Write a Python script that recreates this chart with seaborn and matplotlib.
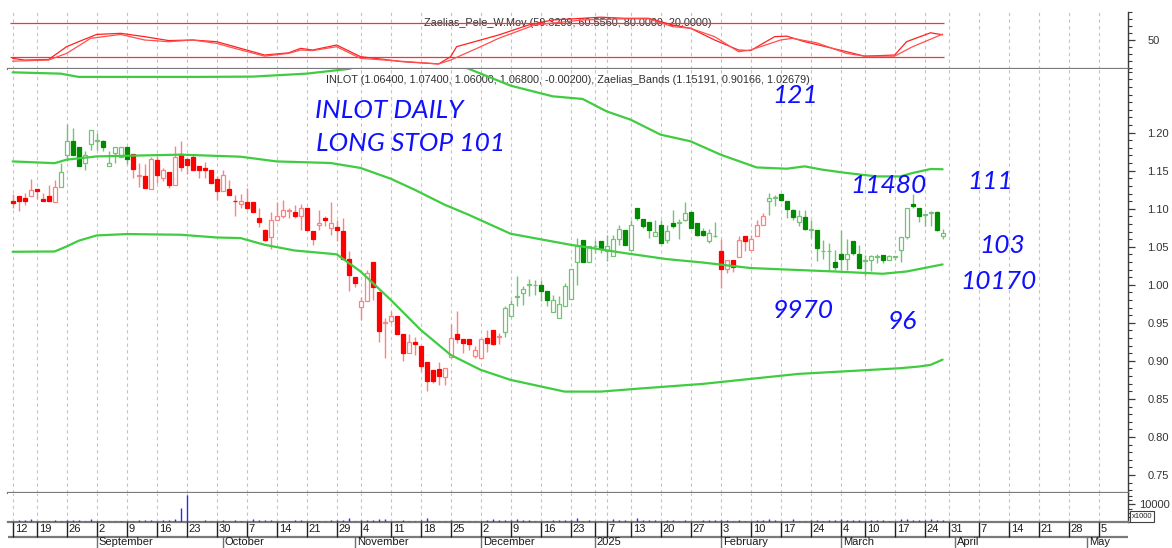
import numpy as np
import pandas as pd
import matplotlib
matplotlib.use("Agg")
import matplotlib.pyplot as plt
from matplotlib.ticker import MultipleLocator, FixedLocator
import seaborn as sns

# ---------------- data (x = trading-day index from 12 Aug 2024) ----------------
open_ = [1.1101, 1.1167, 1.1145, 1.1171, 1.1259, 1.1127, 1.1162, 1.1092, 1.1290, 1.1711,
         1.1886, 1.1807, 1.1601, 1.1851, 1.1895, 1.1886, 1.1557, 1.1733, 1.1676, 1.1807,
         1.1719, 1.1434, 1.1434, 1.1255, 1.1645, 1.1404, 1.1478, 1.1312, 1.1719, 1.1654,
         1.1676, 1.1566, 1.1535, 1.1509, 1.1390, 1.1237, 1.1263, 1.1105, 1.1061, 1.1088,
         1.1084, 1.0882, 1.0724, 1.0627, 1.0846, 1.0908, 1.0974, 1.0961, 1.0908, 1.1009,
         1.0706, 1.0785, 1.0882, 1.0746, 1.0759, 1.0706, 1.0338, 1.0101, 0.9706, 0.9781,
         1.0294, 0.9904, 0.9504, 0.9526, 0.9596, 0.9355, 0.9101, 0.9246, 0.9202, 0.8991,
         0.8882, 0.8895, 0.8794, 0.9057, 0.9355, 0.9285, 0.9285, 0.9070, 0.9035, 0.9298,
         0.9408, 0.9320, 0.9386, 0.9596, 0.9846, 0.9890, 1.0000, 0.9991, 0.9991, 0.9912,
         0.9649, 0.9570, 0.9715, 0.9816, 1.0298, 1.0592, 1.0298, 1.0504, 1.0570, 1.0439,
         1.0373, 1.0601, 1.0724, 1.0452, 1.1009, 1.0864, 1.0820, 1.0645, 1.0789, 1.0583,
         1.0811, 1.0811, 1.0846, 1.0956, 1.0811, 1.0706, 1.0571, 1.0636, 1.0439, 1.0206,
         1.0329, 1.0364, 1.0645, 1.0452, 1.0636, 1.0790, 1.1097, 1.1141, 1.1198, 1.1097,
         1.0978, 1.0821, 1.0886, 1.0724, 1.0715, 1.0439, 1.0439, 1.0294, 1.0404, 1.0338,
         1.0571, 1.0408, 1.0307, 1.0321, 1.0364, 1.0395, 1.0329, 1.0364, 1.0452, 1.0628,
         1.1066, 1.1009, 1.0921, 1.0943, 1.0952, 1.0640]
high = [1.1193, 1.1170, 1.1202, 1.1390, 1.1262, 1.1202, 1.1316, 1.1377, 1.1601, 1.2114,
        1.2062, 1.1807, 1.1755, 1.2035, 1.1991, 1.1908, 1.1763, 1.1807, 1.1807, 1.1807,
        1.1719, 1.1601, 1.1588, 1.1676, 1.1689, 1.1535, 1.1478, 1.1820, 1.1895, 1.1654,
        1.1711, 1.1566, 1.1610, 1.1509, 1.1434, 1.1513, 1.1382, 1.1184, 1.1200, 1.1270,
        1.1084, 1.1009, 1.0730, 1.0952, 1.1088, 1.1118, 1.1009, 1.1053, 1.1061, 1.1009,
        1.0706, 1.0978, 1.0908, 1.1088, 1.0855, 1.0877, 1.0439, 1.0101, 0.9838, 1.0197,
        1.0294, 0.9904, 0.9561, 0.9662, 0.9596, 0.9355, 0.9355, 0.9320, 0.9202, 0.8991,
        0.8882, 0.8982, 0.8904, 0.9487, 0.9662, 0.9285, 0.9285, 0.9189, 0.9285, 0.9408,
        0.9408, 0.9364, 0.9715, 0.9803, 1.0118, 0.9978, 1.0075, 1.0066, 1.0066, 0.9912,
        0.9868, 0.9855, 1.0022, 1.0211, 1.0614, 1.0592, 1.0504, 1.0592, 1.0570, 1.0658,
        1.0658, 1.0789, 1.0724, 1.0855, 1.1009, 1.0864, 1.0820, 1.0855, 1.0855, 1.0789,
        1.0987, 1.0864, 1.1083, 1.0956, 1.0811, 1.0746, 1.0733, 1.0821, 1.0601, 1.0329,
        1.0329, 1.0636, 1.0645, 1.0658, 1.0856, 1.0943, 1.1207, 1.1185, 1.1198, 1.1097,
        1.0996, 1.0978, 1.0987, 1.0847, 1.0715, 1.0584, 1.0549, 1.0452, 1.0715, 1.0601,
        1.0571, 1.0527, 1.0395, 1.0395, 1.0408, 1.0395, 1.0395, 1.0380, 1.0628, 1.1009,
        1.1198, 1.1009, 1.0921, 1.0965, 1.0965, 1.0740]
low = [1.1009, 1.0965, 1.1044, 1.1171, 1.1132, 1.1101, 1.1101, 1.1092, 1.1290, 1.1632,
       1.1711, 1.1557, 1.1513, 1.1776, 1.1768, 1.1763, 1.1557, 1.1601, 1.1676, 1.1588,
       1.1404, 1.1281, 1.1268, 1.1255, 1.1338, 1.1360, 1.1268, 1.1312, 1.1491, 1.1456,
       1.1513, 1.1404, 1.1404, 1.1342, 1.1119, 1.1237, 1.1184, 1.0908, 1.1009, 1.1000,
       1.0952, 1.0754, 1.0580, 1.0469, 1.0846, 1.0877, 1.0877, 1.0877, 1.0715, 1.0715,
       1.0526, 1.0724, 1.0776, 1.0658, 1.0570, 1.0338, 0.9912, 0.9965, 0.9531, 0.9781,
       0.9803, 0.9254, 0.9035, 0.9504, 0.9355, 0.9004, 0.9101, 0.9079, 0.8860, 0.8610,
       0.8715, 0.8684, 0.8684, 0.9035, 0.9241, 0.9101, 0.9145, 0.9035, 0.9035, 0.9123,
       0.9211, 0.9224, 0.9320, 0.9596, 0.9724, 0.9737, 0.9855, 0.9868, 0.9789, 0.9715,
       0.9649, 0.9561, 0.9715, 0.9816, 1.0000, 1.0298, 1.0298, 1.0417, 1.0417, 1.0307,
       1.0373, 1.0526, 1.0526, 1.0452, 1.0855, 1.0746, 1.0614, 1.0645, 1.0548, 1.0548,
       1.0746, 1.0601, 1.0833, 1.0746, 1.0636, 1.0645, 1.0549, 1.0628, 0.9957, 1.0154,
       1.0163, 1.0364, 1.0439, 1.0452, 1.0636, 1.0790, 1.0921, 1.1040, 1.1097, 1.0878,
       1.0856, 1.0768, 1.0724, 1.0614, 1.0307, 1.0338, 1.0198, 1.0189, 1.0189, 1.0189,
       1.0395, 1.0220, 1.0110, 1.0176, 1.0285, 1.0285, 1.0320, 1.0330, 1.0300, 1.0600,
       1.1009, 1.0821, 1.0777, 1.0768, 1.0702, 1.0600]
close = [1.1075, 1.1101, 1.1096, 1.1241, 1.1237, 1.1101, 1.1101, 1.1290, 1.1483, 1.1895,
         1.1711, 1.1557, 1.1702, 1.2035, 1.1895, 1.1816, 1.1601, 1.1807, 1.1807, 1.1654,
         1.1526, 1.1434, 1.1268, 1.1654, 1.1448, 1.1505, 1.1312, 1.1676, 1.1548, 1.1570,
         1.1513, 1.1513, 1.1513, 1.1342, 1.1237, 1.1448, 1.1184, 1.1097, 1.1105, 1.1013,
         1.0952, 1.0820, 1.0592, 1.0846, 1.0908, 1.0987, 1.0974, 1.0908, 1.1009, 1.0715,
         1.0601, 1.0811, 1.0846, 1.0811, 1.0715, 1.0338, 1.0132, 1.0022, 0.9781, 1.0154,
         0.9969, 0.9399, 0.9504, 0.9596, 0.9355, 0.9110, 0.9254, 0.9219, 0.8934, 0.8741,
         0.8741, 0.8807, 0.8904, 0.9298, 0.9289, 0.9241, 0.9224, 0.9145, 0.9285, 0.9232,
         0.9224, 0.9320, 0.9693, 0.9750, 0.9846, 0.9943, 1.0009, 0.9991, 0.9912, 0.9803,
         0.9803, 0.9746, 0.9987, 1.0211, 1.0513, 1.0298, 1.0504, 1.0504, 1.0482, 1.0504,
         1.0601, 1.0732, 1.0526, 1.0789, 1.0877, 1.0768, 1.0715, 1.0689, 1.0548, 1.0702,
         1.0776, 1.0811, 1.0943, 1.0746, 1.0649, 1.0658, 1.0680, 1.0636, 1.0206, 1.0329,
         1.0233, 1.0584, 1.0571, 1.0601, 1.0790, 1.0900, 1.1141, 1.1141, 1.1110, 1.0996,
         1.0891, 1.0908, 1.0733, 1.0724, 1.0483, 1.0439, 1.0439, 1.0233, 1.0338, 1.0408,
         1.0417, 1.0220, 1.0329, 1.0373, 1.0364, 1.0329, 1.0373, 1.0364, 1.0628, 1.1009,
         1.1031, 1.0908, 1.0921, 1.0943, 1.0715, 1.0680]
volume_k = [200, 900, 900, 1700, 200, 200, 200, 900, 200, 1100,
            900, 900, 200, 1600, 200, 200, 200, 200, 200, 200,
            200, 900, 900, 900, 200, 900, 900, 1400, 7700, 15400,
            200, 200, 900, 200, 200, 900, 200, 900, 200, 200,
            1700, 900, 900, 900, 200, 200, 200, 900, 900, 200,
            200, 200, 200, 900, 900, 1000, 2100, 200, 900, 900,
            900, 1800, 1800, 200, 200, 900, 200, 200, 900, 2100,
            200, 200, 200, 900, 200, 200, 200, 200, 200, 900,
            1400, 900, 900, 900, 1700, 900, 900, 200, 200, 200,
            900, 1200, 900, 900, 2100, 200, 900, 200, 200, 200,
            1700, 900, 900, 200, 2100, 900, 900, 900, 200, 900,
            900, 200, 900, 200, 200, 900, 900, 900, 1000, 900,
            200, 900, 200, 200, 900, 900, 1700, 900, 200, 200,
            1400, 200, 200, 900, 900, 200, 900, 900, 1400, 900,
            900, 900, 200, 900, 900, 900, 200, 200, 1400, 1700,
            900, 900, 900, 1400, 900, 900]
red_ranges = [(0, 7), (20, 81), (118, 125)]

upper_idx = [0, 8, 11, 31, 40, 49, 56, 60, 64, 68, 72, 76, 83, 90, 95, 99, 103, 108,
             113, 118, 124, 129, 132, 135, 139, 144, 148, 150, 153, 155]
upper_val = [1.2793, 1.2776, 1.2733, 1.2733, 1.2737, 1.2776, 1.2838, 1.292, 1.298, 1.300,
             1.294, 1.284, 1.2618, 1.2478, 1.2443, 1.2280, 1.2171, 1.1974, 1.1886, 1.1711,
             1.1543, 1.1526, 1.1557, 1.1513, 1.1470, 1.1425, 1.1425, 1.1470, 1.1522, 1.15191]
middle_idx = [0, 7, 9, 14, 28, 38, 44, 53, 58, 63, 67, 72, 76, 83, 93, 102, 109, 115,
              123, 137, 145, 149, 155]
middle_val = [1.1622, 1.1599, 1.1645, 1.1688, 1.1711, 1.1684, 1.1622, 1.1601, 1.1536, 1.1395,
              1.1250, 1.1053, 1.0921, 1.0671, 1.0526, 1.0417, 1.0338, 1.0293, 1.0220, 1.0175,
              1.0145, 1.0175, 1.02679]
lower_idx = [0, 7, 9, 11, 14, 19, 28, 34, 38, 42, 47, 54, 58, 63, 68, 73, 78, 83, 92,
             98, 106, 115, 123, 131, 140, 148, 151, 153, 155]
lower_val = [1.0434, 1.0438, 1.0504, 1.0579, 1.0649, 1.0667, 1.0658, 1.0622, 1.0614, 1.0526,
             1.0451, 1.0401, 1.0175, 0.9803, 0.9408, 0.9079, 0.8882, 0.8750, 0.8596, 0.8596,
             0.8645, 0.8697, 0.8763, 0.8829, 0.8868, 0.8904, 0.8925, 0.8947, 0.90166]

fast_idx = [0, 2, 6, 9, 11, 14, 18, 22, 26, 30, 34, 37, 42, 46, 48, 50, 54, 58, 62, 65,
            71, 73, 74, 78, 81, 86, 90, 95, 98, 102, 106, 110, 113, 117, 121, 123, 127,
            129, 132, 139, 142, 147, 149, 153, 155]
fast_val = [17, 14, 15, 38, 47, 60, 62, 56, 49, 50, 47, 38, 23, 27, 35, 32, 41, 20, 15, 11,
            7, 20, 38, 50, 59, 77, 86, 89, 91, 89, 89, 77, 71, 50, 32, 31, 56,
            57, 47, 29, 21, 23, 47, 63, 59.3209]
slow_idx = [0, 6, 9, 13, 18, 22, 26, 30, 34, 37, 42, 46, 48, 50, 54, 58, 62, 71, 73, 78,
            81, 87, 95, 102, 106, 110, 113, 117, 121, 123, 128, 130, 134, 139, 142, 147,
            150, 154, 155]
slow_val = [12, 14, 26, 53, 60, 50, 47, 50, 44, 35, 21, 26, 32, 31, 38, 17, 14, 7, 14, 38,
            53, 77, 86, 88, 88, 74, 71, 56, 29, 32, 50, 53, 45, 26, 21, 21,
            38, 56, 60.5560]
osc_levels = [80, 20]

day_tick_idx = [0, 4, 9, 14, 19, 24, 29, 34, 39, 44, 49, 54, 58, 63, 68, 73, 78, 83, 88, 93,
                97, 99, 103, 108, 113, 118, 123, 128, 133, 138, 142, 147, 152, 156, 161, 166,
                171, 176, 181]
day_tick_labels = ['12', '19', '26', '2', '9', '16', '23', '30', '7', '14', '21', '29', '4',
                   '11', '18', '25', '2', '9', '16', '23', '', '7', '13', '20', '27', '3',
                   '10', '17', '24', '4', '10', '17', '24', '31', '7', '14', '21', '28', '5']
month_idx = [14, 35, 57, 78, 97, 118, 138, 157, 179]
month_labels = ['September', 'October', 'November', 'December', '2025', 'February',
                'March', 'April', 'May']
price_ticks = [0.75, 0.80, 0.85, 0.90, 0.95, 1.00, 1.05, 1.10, 1.15, 1.20]

osc_title = "Zaelias_Pele_W.Mov (59.3209, 60.5560, 80.0000, 20.0000)"
main_title = ("INLOT (1.06400, 1.07400, 1.06000, 1.06800, -0.00200), "
              "Zaelias_Bands (1.15191, 0.90166, 1.02679)")
notes = [("INLOT DAILY", 50.4, 1.2145), ("LONG STOP 101", 50.6, 1.1711),
         ("121", 126.7, 1.2342), ("11480", 139.6, 1.1158), ("111", 159.2, 1.1211),
         ("103", 161.1, 1.0370), ("10170", 157.9, 0.9897), ("9970", 126.7, 0.9513),
         ("96", 145.9, 0.9368)]

# ---------------- table ----------------
df = pd.DataFrame({"open": open_, "high": high, "low": low, "close": close,
                   "volume": volume_k})
df["i"] = np.arange(len(df))
df["red"] = False
for a, b in red_ranges:
    df.loc[a:b, "red"] = True
df["bull"] = df["close"] >= df["open"]

# ---------------- figure ----------------
sns.set_theme(style="white")
plt.rcParams["font.family"] = ["Liberation Sans", "DejaVu Sans"]

W, H = 1172, 548
fig = plt.figure(figsize=(W / 100, H / 100), dpi=100)
fig.patch.set_facecolor("white")
L, R = 8, 1128
Y_OT, Y_OB, Y_MB, Y_VB = 12, 69.3, 493, 521.7


def box(top, bot):
    return [L / W, 1 - bot / H, (R - L) / W, (bot - top) / H]


ax_osc = fig.add_axes(box(Y_OT, Y_OB))
ax_main = fig.add_axes(box(Y_OB, Y_MB))
ax_vol = fig.add_axes(box(Y_MB, Y_VB))
ax_date = fig.add_axes(box(Y_VB, H))

x_lo, x_hi = -0.77, 185.9
SEP = "#7a7a7a"
AXC = "#3a3a3a"
GRID = "#c4c4c4"

for ax in (ax_osc, ax_main, ax_vol):
    ax.set_facecolor("white")
    ax.set_xlim(x_lo, x_hi)
    ax.set_xticks([])
    for s in ("top", "left"):
        ax.spines[s].set_visible(False)
    ax.spines["bottom"].set_color(SEP)
    ax.spines["bottom"].set_linewidth(1.6)
    ax.spines["right"].set_color(AXC)
    ax.spines["right"].set_linewidth(1.0)
    ax.yaxis.tick_right()
    ax.tick_params(axis="y", which="major", direction="out", length=5, width=0.9,
                   color=AXC, labelsize=8, labelcolor="#333333", pad=9)
    ax.tick_params(axis="y", which="minor", direction="out", length=3, width=0.8,
                   color=AXC)
    ax.grid(False)
    for t in day_tick_idx:
        ax.axvline(t, color=GRID, lw=0.8, ls=(0, (3, 3)), zorder=0)

# ---- oscillator panel ----
ax_osc.set_ylim(-2.6, 100.3)
ax_osc.yaxis.set_major_locator(FixedLocator([50]))
ax_osc.yaxis.set_minor_locator(MultipleLocator(12.5))
ax_osc.set_yticklabels(["50"])
for lv in osc_levels:
    ax_osc.hlines(lv, -0.5, len(df) - 0.7, color="#ff3030", lw=0.9, zorder=3)
sns.lineplot(x=fast_idx, y=fast_val, ax=ax_osc, color="#ff2020", lw=0.9, zorder=4)
sns.lineplot(x=slow_idx, y=slow_val, ax=ax_osc, color="#ff5050", lw=0.9, zorder=4)
ax_osc.set_xlabel("")
ax_osc.set_ylabel("")
ax_osc.text(0.5, 0.81, osc_title, transform=ax_osc.transAxes, ha="center", va="center",
            fontsize=7.8, color="#303030", zorder=1)

# ---- main panel ----
ax_main.set_ylim(0.7263, 1.2833)
ax_main.yaxis.set_major_locator(FixedLocator(price_ticks))
ax_main.yaxis.set_minor_locator(MultipleLocator(0.01))
ax_main.set_yticklabels([f"{v:.2f}" for v in price_ticks])

RED_F, RED_L = "#ff0000", "#ff8282"
GRN_F, GRN_L = "#008a00", "#74c274"
wick_col = np.where(df["red"], RED_L, GRN_L)
ax_main.vlines(df["i"], df["low"], df["high"], colors=wick_col, lw=1.0, zorder=2)
body_lo = np.minimum(df["open"], df["close"])
body_h = np.maximum((df["close"] - df["open"]).abs(), 0.0009)
face = np.where(df["bull"], "white", np.where(df["red"], RED_F, GRN_F))
edge = np.where(df["bull"], np.where(df["red"], RED_L, GRN_L),
                np.where(df["red"], RED_F, GRN_F))
ax_main.bar(df["i"], body_h, bottom=body_lo, width=0.66, color=face, edgecolor=edge,
            linewidth=0.9, zorder=3)

BAND = "#40cc40"
for bx, by in ((upper_idx, upper_val), (middle_idx, middle_val), (lower_idx, lower_val)):
    sns.lineplot(x=bx, y=by, ax=ax_main, color=BAND, lw=1.6, zorder=4)
ax_main.set_xlabel("")
ax_main.set_ylabel("")
ax_main.text(0.5, 0.9747, main_title, transform=ax_main.transAxes, ha="center",
             va="center", fontsize=7.8, color="#303030", zorder=1)
for txt, xi, yv in notes:
    ax_main.text(xi, yv, txt, ha="left", va="bottom", fontsize=19, style="italic",
                 weight="normal", family=["Lato", "Liberation Sans", "DejaVu Sans"],
                 color="#1010ff", zorder=6)

# ---- volume panel ----
ax_vol.set_ylim(0, 16494)
ax_vol.yaxis.set_major_locator(FixedLocator([10000]))
ax_vol.yaxis.set_minor_locator(MultipleLocator(2500))
ax_vol.set_yticklabels(["10000"])
ax_vol.tick_params(axis="y", which="major", pad=3)
ax_vol.vlines(df["i"], 0, df["volume"], colors="#2a2aff", lw=1.0, zorder=3)
fig.text(1142 / W, 1 - 516.5 / H, "x1000", fontsize=5.5, ha="center", va="center",
         color="#222222",
         bbox=dict(boxstyle="square,pad=0.2", fc="white", ec="#404040", lw=0.8))

# ---- date axis ----
ax_date.set_xlim(x_lo, x_hi)
ax_date.set_ylim(0, 1)
ax_date.axis("off")
row = (H - 536.7) / (H - Y_VB)
ax_date.axhline(row, color=SEP, lw=1.6)
ax_date.vlines(day_tick_idx, row, 1, colors="#202020", lw=1.0)
ax_date.vlines(month_idx, 0, row, colors="#707070", lw=1.0)
for t, lab in zip(day_tick_idx, day_tick_labels):
    ax_date.text(t + 0.35, (1 + row) / 2, lab, ha="left", va="center", fontsize=8,
                 color="#1a1a1a")
for t, lab in zip(month_idx, month_labels):
    ax_date.text(t + 0.35, row / 2, lab, ha="left", va="center", fontsize=8,
                 color="#1a1a1a")

fig.savefig("out.png", dpi=100, facecolor="white")
